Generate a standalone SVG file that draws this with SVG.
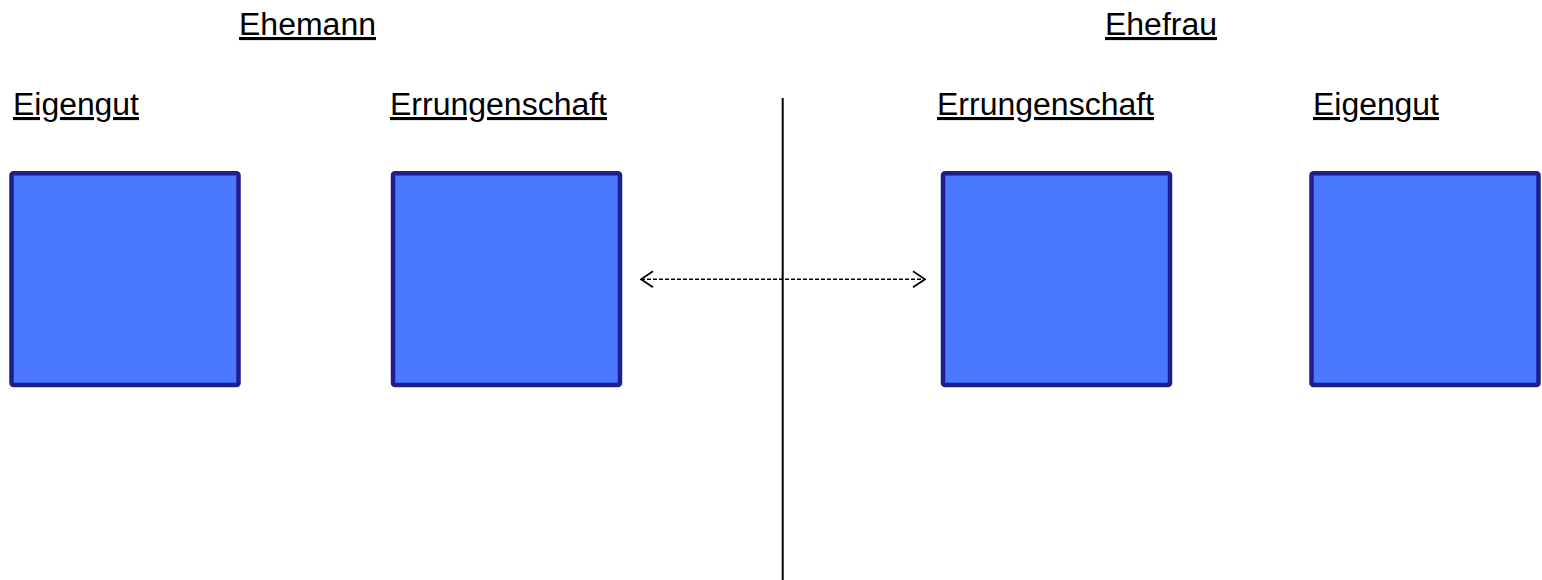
<svg xmlns="http://www.w3.org/2000/svg" width="1542" height="580" viewBox="0 0 1542 580">
<style>
.t{font-family:"Liberation Sans",Arial,sans-serif;font-size:31px;fill:#000;text-decoration:underline}
.box{fill:#4a78ff;stroke:#1f1f8c;stroke-width:4.5}
</style>
<defs>
<marker id="open" viewBox="0 0 14 20" refX="13" refY="10" markerWidth="14" markerHeight="20" markerUnits="userSpaceOnUse" orient="auto-start-reverse">
<path d="M1,2 L13,10 L1,18" fill="none" stroke="#000" stroke-width="1.8"/>
</marker>
</defs>
<rect width="1542" height="580" fill="#fff"/>
<g id="label-ehemann"><text class="t" x="239" y="35" textLength="137" lengthAdjust="spacingAndGlyphs">Ehemann</text></g>
<g id="label-ehefrau"><text class="t" x="1105" y="35" textLength="112" lengthAdjust="spacingAndGlyphs">Ehefrau</text></g>
<g id="n1"><text class="t" x="13" y="115" textLength="126" lengthAdjust="spacingAndGlyphs">Eigengut</text><rect class="box" x="11.5" y="173.3" width="227" height="211.7" rx="2"/></g>
<g id="n2"><text class="t" x="390" y="115" textLength="217" lengthAdjust="spacingAndGlyphs">Errungenschaft</text><rect class="box" x="393" y="173.3" width="227" height="211.7" rx="2"/></g>
<g id="n3"><text class="t" x="937" y="115" textLength="217" lengthAdjust="spacingAndGlyphs">Errungenschaft</text><rect class="box" x="943" y="173.3" width="227" height="211.7" rx="2"/></g>
<g id="n4"><text class="t" x="1313" y="115" textLength="126" lengthAdjust="spacingAndGlyphs">Eigengut</text><rect class="box" x="1311.5" y="173.3" width="227" height="211.7" rx="2"/></g>
<g id="connectors">
<line x1="782.7" y1="98" x2="782.7" y2="580" stroke="#000" stroke-width="2"/>
<line x1="641" y1="279.3" x2="925" y2="279.3" stroke="#000" stroke-width="1.6" stroke-dasharray="4,2" marker-start="url(#open)" marker-end="url(#open)"/>
</g>
</svg>
